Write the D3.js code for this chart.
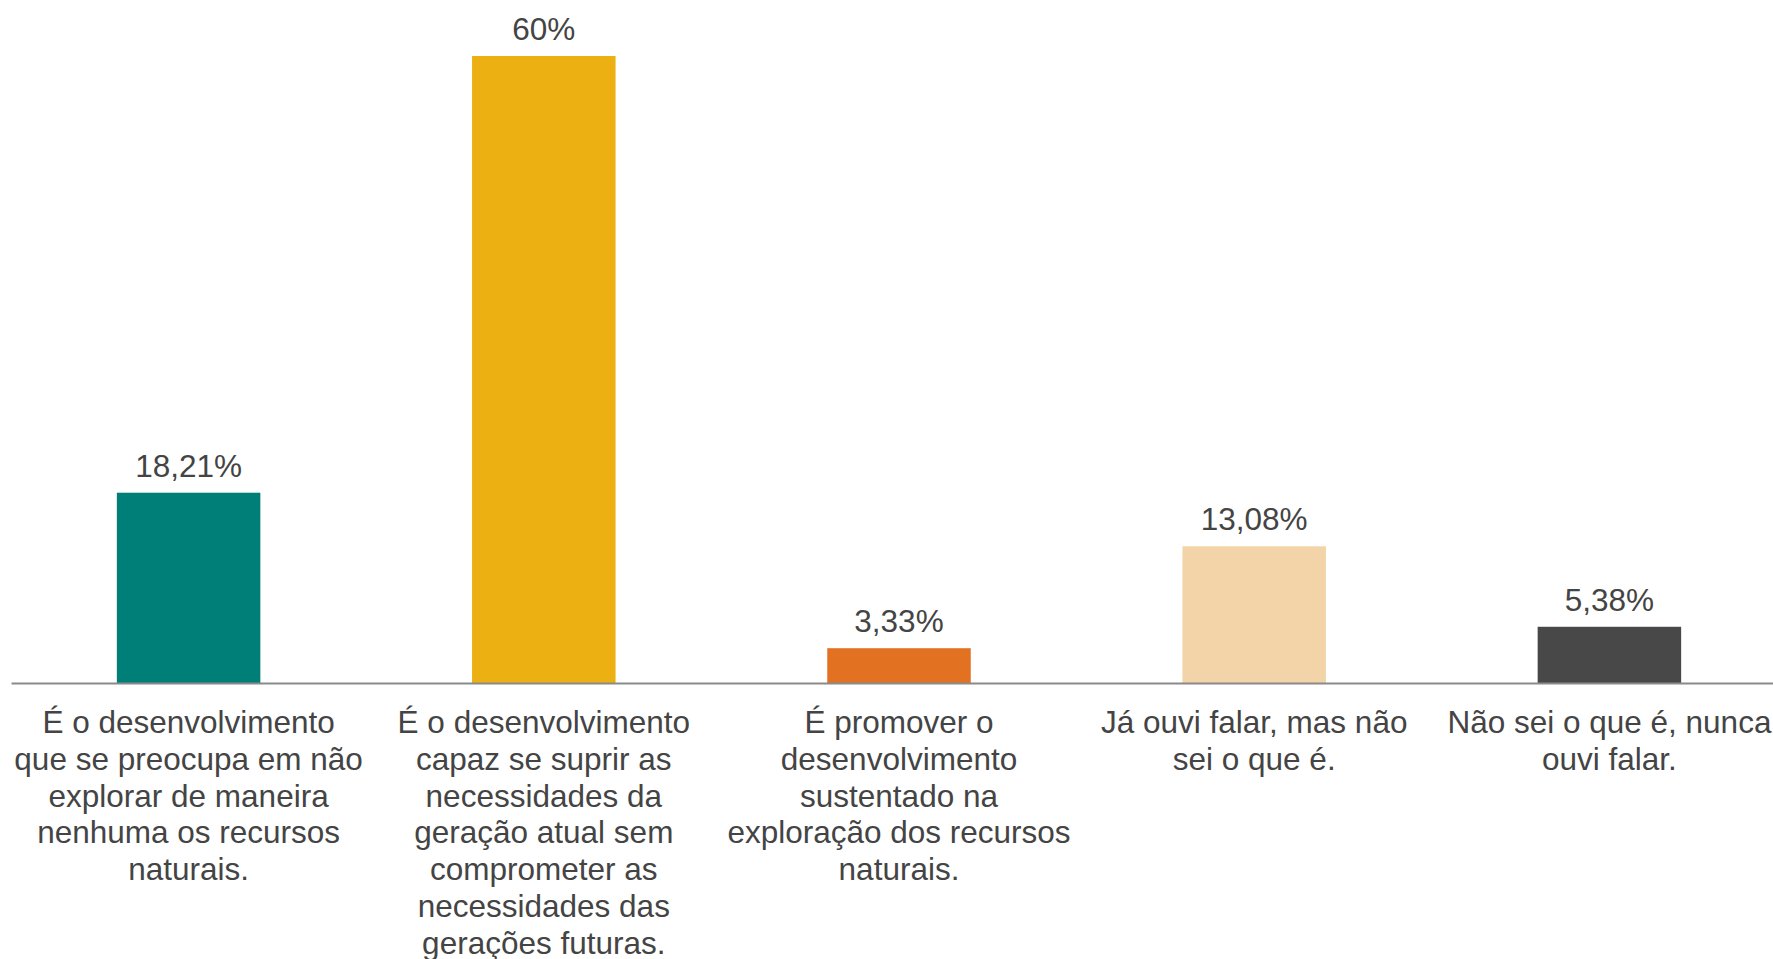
<!DOCTYPE html>
<html>
<head>
<meta charset="utf-8">
<script src="https://cdn.jsdelivr.net/npm/d3@7"></script>
<style>
  body { margin: 0; background: #fff; overflow: hidden; }
  svg { display: block; font-family: "Liberation Sans", Arial, sans-serif; }
  .axis path { stroke: #8a8a8a; stroke-width: 2; }
  .axis line { display: none; }
  .cat-label, .value-label { fill: #444; font-size: 31.5px; }
</style>
</head>
<body>
<div class="chart"></div>
<script>
const categories = [
  [ "É o desenvolvimento", "que se preocupa em não", "explorar de maneira", "nenhuma os recursos", "naturais." ],
  [ "É o desenvolvimento", "capaz se suprir as", "necessidades da", "geração atual sem", "comprometer as", "necessidades das", "gerações futuras." ],
  [ "É promover o", "desenvolvimento", "sustentado na", "exploração dos recursos", "naturais." ],
  [ "Já ouvi falar, mas não", "sei o que é." ],
  [ "Não sei o que é, nunca", "ouvi falar." ]
];
const values = [ 18.21, 60, 3.33, 13.08, 5.38 ];
const valueLabels = [ "18,21%", "60%", "3,33%", "13,08%", "5,38%" ];
const colors = [ "#007e78", "#ecb013", "#e27122", "#f3d4a8", "#484848" ];

const width  = 1773;
const height = 959;
const margin = { top: 56, left: 11, right: -14, bottom: 276 };

const data = values.map( ( v, i ) => ( {
  key: i,
  lines: categories[ i ],
  value: v,
  label: valueLabels[ i ],
  color: colors[ i ]
} ) );

const svg = d3.select( ".chart" )
  .append( "svg" )
    .attr( "width", width )
    .attr( "height", height );

const xScale = d3.scaleBand()
  .domain( data.map( d => d.key ) )
  .range( [ margin.left, width - margin.right ] )
  .paddingInner( 0.596 )
  .paddingOuter( 0.298 );

const yScale = d3.scaleLinear()
  .domain( [ 0, 60 ] )
  .range( [ height - margin.bottom, margin.top ] );

svg.selectAll( "rect.bar" )
  .data( data )
  .enter()
    .append( "rect" )
    .attr( "class", "bar" )
    .attr( "x", d => xScale( d.key ) )
    .attr( "y", d => yScale( d.value ) )
    .attr( "width", xScale.bandwidth() )
    .attr( "height", d => yScale( 0 ) - yScale( d.value ) )
    .attr( "fill", d => d.color );

svg.selectAll( "text.value-label" )
  .data( data )
  .enter()
    .append( "text" )
    .attr( "class", "value-label" )
    .attr( "text-anchor", "middle" )
    .attr( "x", d => xScale( d.key ) + xScale.bandwidth() / 2 )
    .attr( "y", d => yScale( d.value ) - 16 )
    .text( d => d.label );

const xAxis = d3.axisBottom( xScale )
  .tickSize( 0 )
  .tickSizeOuter( 0 );

const axis = svg.append( "g" )
  .attr( "class", "x axis" )
  .attr( "transform", `translate(0,${ yScale( 0 ) })` )
  .call( xAxis );

axis.selectAll( ".tick text" ).remove();

axis.selectAll( ".tick" )
  .append( "text" )
    .attr( "class", "cat-label" )
    .attr( "text-anchor", "middle" )
    .attr( "y", 50 )
  .selectAll( "tspan" )
  .data( d => data[ d ].lines )
  .enter()
    .append( "tspan" )
    .attr( "x", 0 )
    .attr( "dy", ( d, i ) => i === 0 ? 0 : 36.75 )
    .text( d => d );
</script>
</body>
</html>
